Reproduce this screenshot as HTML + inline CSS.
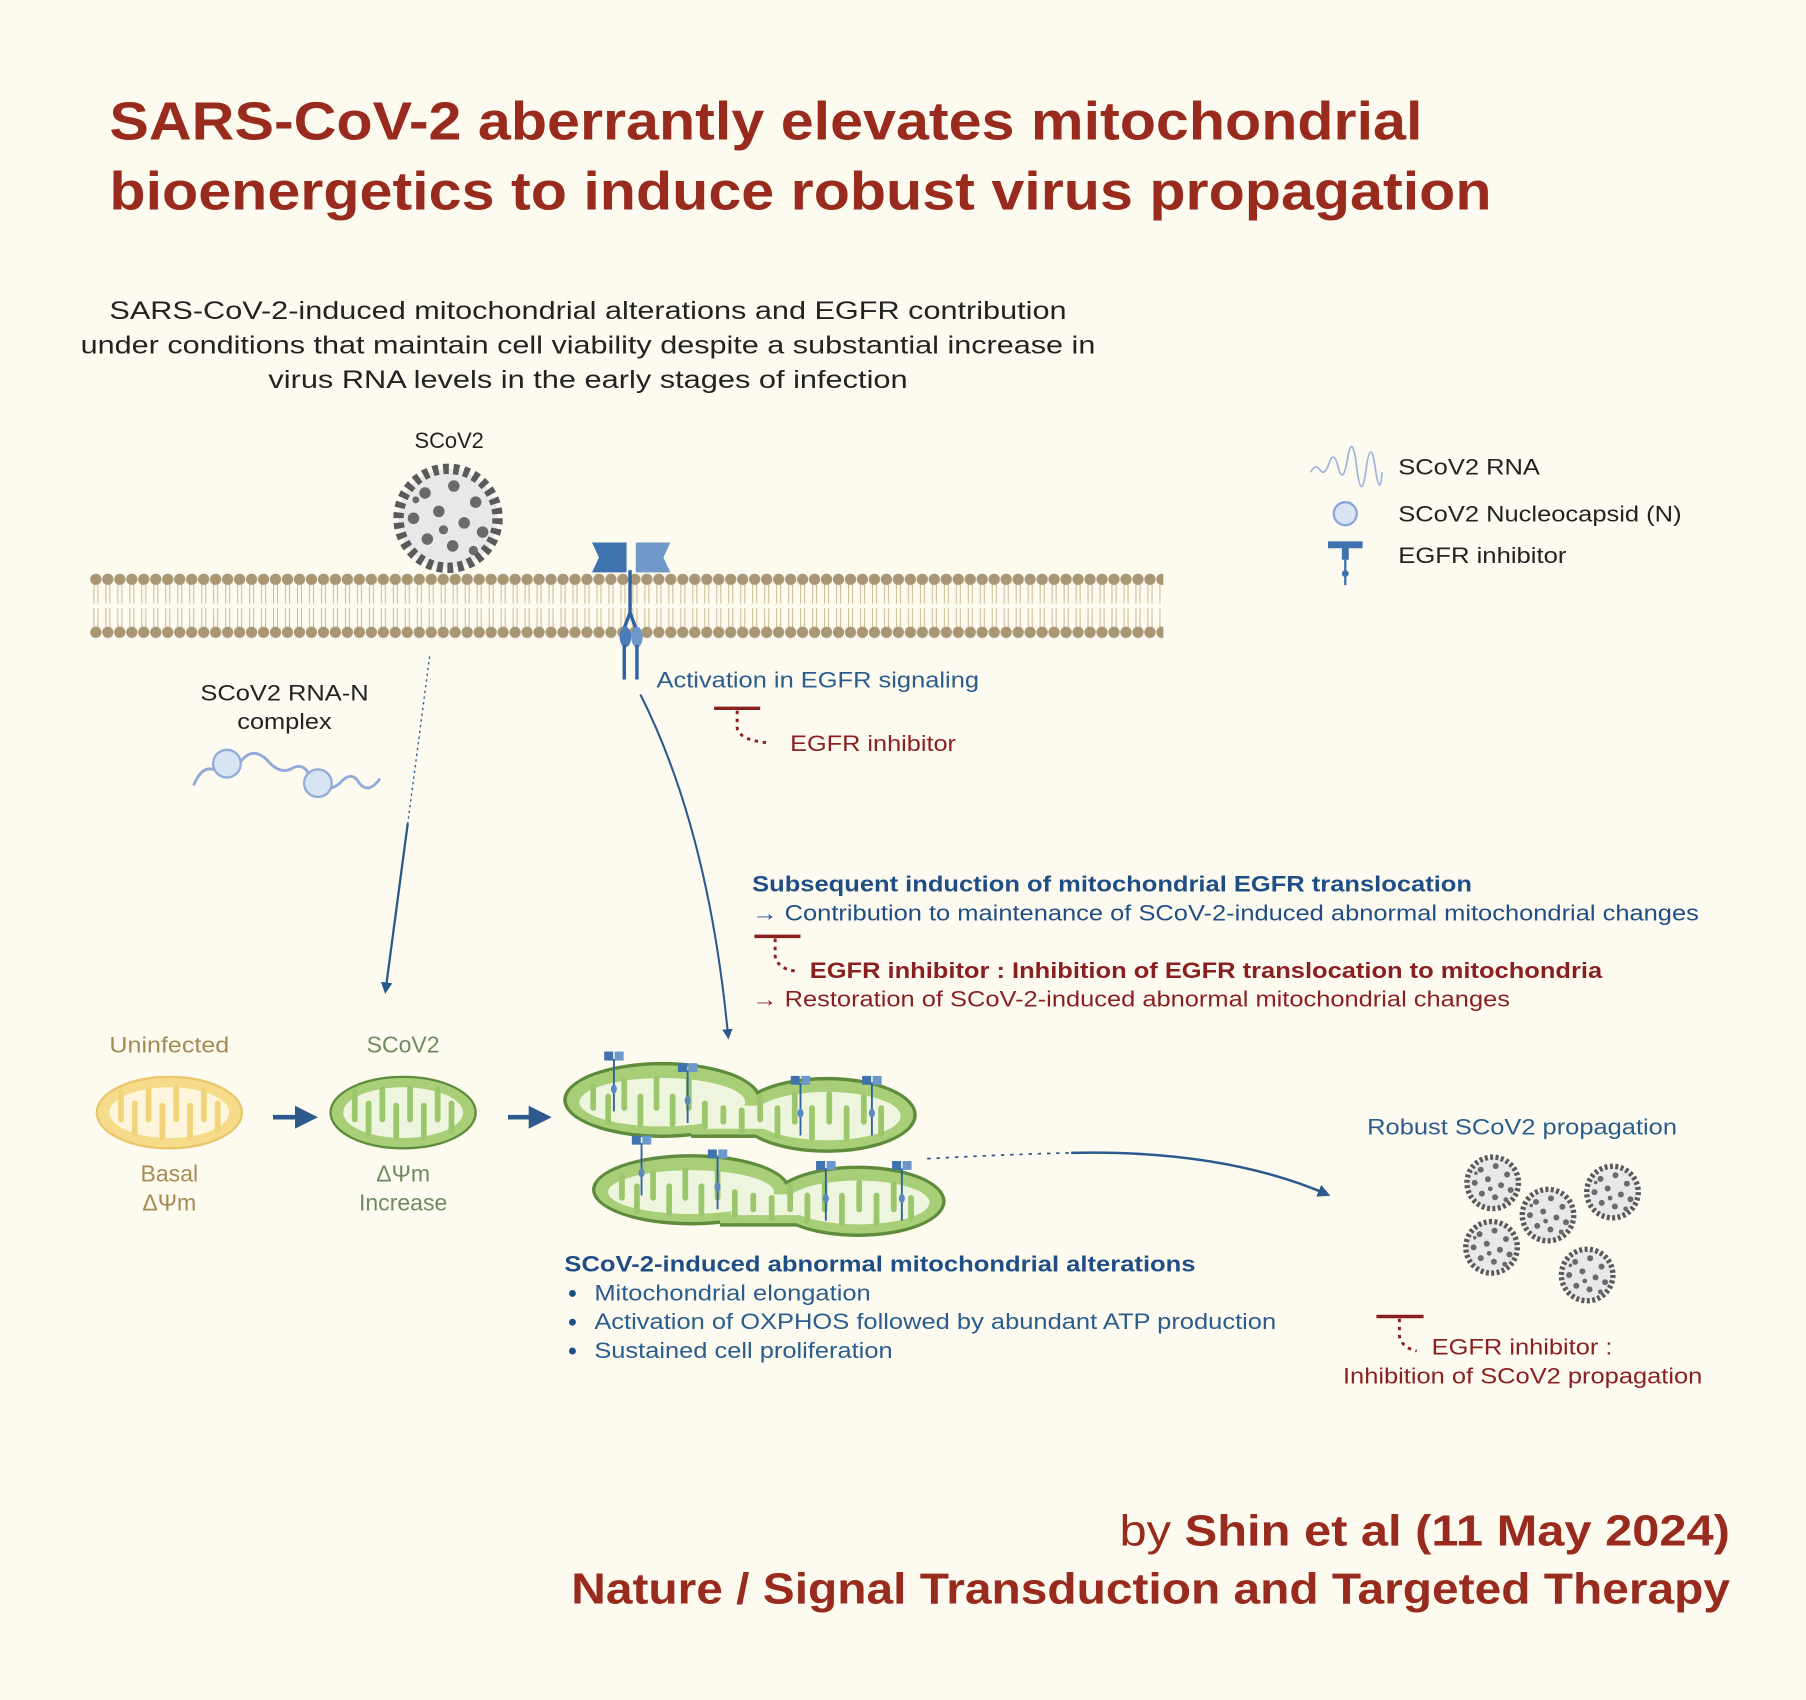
<!DOCTYPE html>
<html><head><meta charset="utf-8">
<style>
html,body{margin:0;padding:0;background:#fdfbf0;}
svg{display:block;}
text{font-family:"Liberation Sans",Arial,sans-serif;}
</style></head>
<body>
<svg width="1806" height="1700" viewBox="0 0 1568 1476" xmlns="http://www.w3.org/2000/svg">
<defs>
 <pattern id="mem" x="78" y="498" width="10.4" height="57" patternUnits="userSpaceOnUse">
  <line x1="3.5" y1="9" x2="3.5" y2="26" stroke="#cdbb98" stroke-width="0.9"/>
  <line x1="7" y1="9" x2="7" y2="26" stroke="#cdbb98" stroke-width="0.9"/>
  <line x1="3.5" y1="30" x2="3.5" y2="47" stroke="#cdbb98" stroke-width="0.9"/>
  <line x1="7" y1="30" x2="7" y2="47" stroke="#cdbb98" stroke-width="0.9"/>
  <circle cx="5.2" cy="5" r="4.9" fill="#a99674"/>
  <circle cx="5.2" cy="51" r="4.9" fill="#a99674"/>
 </pattern>
 <symbol id="virus" viewBox="-50 -50 100 100">
  <circle r="43" fill="#e8e8e8" stroke="#5a5a5a" stroke-width="9" stroke-dasharray="5 4"/>
  <g fill="#6a6a6a">
   <circle cx="-20" cy="-22" r="5"/><circle cx="5" cy="-28" r="5"/><circle cx="24" cy="-14" r="5"/>
   <circle cx="-30" cy="0" r="5"/><circle cx="-8" cy="-6" r="5"/><circle cx="14" cy="4" r="5"/>
   <circle cx="30" cy="12" r="5"/><circle cx="-18" cy="18" r="5"/><circle cx="4" cy="24" r="5"/>
   <circle cx="22" cy="28" r="4"/><circle cx="-4" cy="10" r="4"/><circle cx="-28" cy="-16" r="3"/>
  </g>
 </symbol>
 <symbol id="egfr" viewBox="0 0 30 80">
  <rect x="2" y="0" width="12" height="12" fill="#3f73b0"/>
  <rect x="16" y="0" width="12" height="12" fill="#6d98cc"/>
  <line x1="15" y1="10" x2="15" y2="80" stroke="#2f62a0" stroke-width="2.5"/>
  <ellipse cx="15" cy="50" rx="4" ry="6" fill="#5a88c0"/>
 </symbol>
 <marker id="ah" viewBox="0 0 10 10" refX="5" refY="5" markerWidth="5" markerHeight="5" orient="auto">
  <path d="M0,0 L10,5 L0,10 z" fill="#2c5a8c"/>
 </marker>
</defs>

<rect width="1568" height="1476" fill="#fdfbf0"/>

<!-- Title -->
<g fill="#992a1e" font-weight="bold" font-size="47">
 <text x="95" y="121" textLength="1140" lengthAdjust="spacingAndGlyphs">SARS-CoV-2 aberrantly elevates mitochondrial</text>
 <text x="95" y="182" textLength="1200" lengthAdjust="spacingAndGlyphs">bioenergetics to induce robust virus propagation</text>
</g>

<!-- Subtitle -->
<g fill="#222" font-size="22">
 <text x="95" y="277" textLength="831" lengthAdjust="spacingAndGlyphs">SARS-CoV-2-induced mitochondrial alterations and EGFR contribution</text>
 <text x="70" y="307" textLength="881" lengthAdjust="spacingAndGlyphs">under conditions that maintain cell viability despite a substantial increase in</text>
 <text x="233" y="337" textLength="555" lengthAdjust="spacingAndGlyphs">virus RNA levels in the early stages of infection</text>
</g>

<text x="390" y="389" font-size="19" fill="#222" text-anchor="middle">SCoV2</text>
<use href="#virus" x="339" y="400" width="100" height="100"/>

<!-- Membrane -->
<rect x="78" y="498" width="932" height="57" fill="url(#mem)"/>

<!-- EGFR on membrane -->
<path d="M514,471 h30 v26 h-30 l6,-13 z" fill="#3f73b0"/>
<path d="M582,471 h-30 v26 h30 l-6,-13 z" fill="#7098c8"/>
<line x1="547" y1="495" x2="547" y2="535" stroke="#2f62a0" stroke-width="3"/>
<path d="M547,532 L541,548 M547,532 L553,548" stroke="#2f62a0" stroke-width="3" fill="none"/>
<ellipse cx="543" cy="553" rx="5" ry="9" fill="#4a7cba"/>
<ellipse cx="553" cy="553" rx="5" ry="9" fill="#6d98cc"/>
<line x1="542" y1="560" x2="542" y2="590" stroke="#2f62a0" stroke-width="3"/>
<line x1="553" y1="560" x2="553" y2="590" stroke="#2f62a0" stroke-width="3"/>

<text x="570" y="597" font-size="19" fill="#2a5c8e" textLength="280" lengthAdjust="spacingAndGlyphs">Activation in EGFR signaling</text>
<line x1="620" y1="615" x2="660" y2="615" stroke="#8a1f1f" stroke-width="3"/>
<path d="M640,617 V632 Q642,643 668,645" stroke="#8a1f1f" stroke-width="2.5" fill="none" stroke-dasharray="3 4"/>
<text x="686" y="652" font-size="19" fill="#8a1f1f" textLength="144" lengthAdjust="spacingAndGlyphs">EGFR inhibitor</text>

<!-- RNA-N complex -->
<text x="174" y="608" font-size="19" fill="#222" textLength="146" lengthAdjust="spacingAndGlyphs">SCoV2 RNA-N</text>
<text x="206" y="633" font-size="19" fill="#222" textLength="82" lengthAdjust="spacingAndGlyphs">complex</text>
<path d="M168,682 Q175,665 185,668 Q200,672 210,660 Q220,648 232,660 Q242,672 252,668 Q264,660 270,676 Q280,692 295,680 Q305,668 312,680 Q320,690 330,676" stroke="#92acd8" stroke-width="2.5" fill="none"/>
<circle cx="197" cy="663" r="12" fill="#d8e3f4" stroke="#92acd8" stroke-width="2"/>
<circle cx="276" cy="680" r="12" fill="#d8e3f4" stroke="#92acd8" stroke-width="2"/>

<!-- arrows down -->
<path d="M373,570 L354,715" stroke="#2c5a8c" stroke-width="1.2" stroke-dasharray="2 3" fill="none"/>
<path d="M354,715 L335,858" stroke="#2c5a8c" stroke-width="2" fill="none" marker-end="url(#ah)"/>
<path d="M556,603 Q615,720 632,898" stroke="#2c5a8c" stroke-width="1.8" fill="none" marker-end="url(#ah)"/>

<!-- Legend -->
<path d="M1138,410 q4,-8 8,-2 t8,-6 t8,4 t8,-8 t8,8 t8,2 t8,-2 t6,4" stroke="#9fb5dc" stroke-width="1.5" fill="none"/>
<text x="1214" y="412" font-size="19" fill="#222" textLength="123" lengthAdjust="spacingAndGlyphs">SCoV2 RNA</text>
<circle cx="1168" cy="446" r="10" fill="#d8e3f4" stroke="#8aa6d4" stroke-width="2"/>
<text x="1214" y="453" font-size="19" fill="#222" textLength="246" lengthAdjust="spacingAndGlyphs">SCoV2 Nucleocapsid (N)</text>
<path d="M1153,470 h30 v6 h-12 v10 h-6 v-10 h-12 z" fill="#3f73b0"/>
<line x1="1168" y1="486" x2="1168" y2="508" stroke="#3f73b0" stroke-width="2"/>
<circle cx="1168" cy="498" r="3" fill="#3f73b0"/>
<text x="1214" y="489" font-size="19" fill="#222" textLength="146" lengthAdjust="spacingAndGlyphs">EGFR inhibitor</text>

<!-- Translocation text -->
<text x="653" y="774" font-size="19" font-weight="bold" fill="#1f4e86" textLength="625" lengthAdjust="spacingAndGlyphs">Subsequent induction of mitochondrial EGFR translocation</text>
<text x="653" y="799" font-size="19" fill="#1f4e86" textLength="822" lengthAdjust="spacingAndGlyphs">→ Contribution to maintenance of SCoV-2-induced abnormal mitochondrial changes</text>
<line x1="655" y1="813" x2="695" y2="813" stroke="#8a1f1f" stroke-width="3"/>
<path d="M673,815 V830 Q675,841 690,843" stroke="#8a1f1f" stroke-width="2.5" fill="none" stroke-dasharray="3 4"/>
<text x="703" y="849" font-size="19" font-weight="bold" fill="#8a1f1f" textLength="688" lengthAdjust="spacingAndGlyphs">EGFR inhibitor : Inhibition of EGFR translocation to mitochondria</text>
<text x="653" y="874" font-size="19" fill="#8a1f1f" textLength="658" lengthAdjust="spacingAndGlyphs">→ Restoration of SCoV-2-induced abnormal mitochondrial changes</text>

<!-- Small mitos -->
<text x="147" y="914" font-size="19" fill="#a58a52" text-anchor="middle" textLength="104" lengthAdjust="spacingAndGlyphs">Uninfected</text>
<ellipse cx="147" cy="966" rx="63" ry="31" fill="#f6dc8a" stroke="#e8c66a" stroke-width="2"/>
<ellipse cx="147" cy="966" rx="52" ry="22" fill="#fdf6dc"/>
<g stroke="#f1d47a" stroke-width="5" stroke-linecap="round">
 <line x1="105" y1="948" x2="105" y2="972"/><line x1="117" y1="984" x2="117" y2="958"/>
 <line x1="129" y1="946" x2="129" y2="972"/><line x1="141" y1="988" x2="141" y2="960"/>
 <line x1="153" y1="945" x2="153" y2="972"/><line x1="165" y1="988" x2="165" y2="960"/>
 <line x1="177" y1="946" x2="177" y2="972"/><line x1="189" y1="982" x2="189" y2="958"/>
</g>
<text x="147" y="1026" font-size="20" fill="#a58a52" text-anchor="middle">Basal</text>
<text x="147" y="1051" font-size="20" fill="#a58a52" text-anchor="middle">ΔΨm</text>

<path d="M237,970 H266" stroke="#2c5a8c" stroke-width="4" marker-end="url(#ah)"/>

<text x="350" y="914" font-size="20" fill="#6f8a62" text-anchor="middle">SCoV2</text>
<ellipse cx="350" cy="966" rx="63" ry="31" fill="#a8cf78" stroke="#5e8c3c" stroke-width="2"/>
<ellipse cx="350" cy="966" rx="52" ry="22" fill="#eef5df"/>
<g stroke="#9cc66c" stroke-width="5" stroke-linecap="round">
 <line x1="308" y1="948" x2="308" y2="972"/><line x1="320" y1="984" x2="320" y2="958"/>
 <line x1="332" y1="946" x2="332" y2="972"/><line x1="344" y1="988" x2="344" y2="960"/>
 <line x1="356" y1="945" x2="356" y2="972"/><line x1="368" y1="988" x2="368" y2="960"/>
 <line x1="380" y1="946" x2="380" y2="972"/><line x1="392" y1="982" x2="392" y2="958"/>
</g>
<text x="350" y="1026" font-size="20" fill="#6f8a62" text-anchor="middle">ΔΨm</text>
<text x="350" y="1051" font-size="20" fill="#6f8a62" text-anchor="middle">Increase</text>

<path d="M441,970 H469" stroke="#2c5a8c" stroke-width="4" marker-end="url(#ah)"/>

<!-- Long mito 1 -->
<g>
 <ellipse cx="575" cy="955" rx="86" ry="33" fill="#5e8c3c"/>
 <ellipse cx="718" cy="968" rx="78" ry="33" fill="#5e8c3c"/>
 <rect x="600" y="950" width="110" height="38" fill="#5e8c3c"/>
 <ellipse cx="575" cy="955" rx="83" ry="30" fill="#a8cf78"/>
 <ellipse cx="718" cy="968" rx="75" ry="30" fill="#a8cf78"/>
 <rect x="600" y="953" width="110" height="32" fill="#a8cf78"/>
 <ellipse cx="575" cy="957" rx="72" ry="21" fill="#eef5df"/>
 <ellipse cx="718" cy="969" rx="64" ry="21" fill="#eef5df"/>
 <rect x="610" y="960" width="100" height="20" fill="#eef5df"/>
 <g stroke="#9cc66c" stroke-width="5" stroke-linecap="round">
  <line x1="515" y1="943" x2="515" y2="962"/><line x1="528" y1="975" x2="528" y2="952"/>
  <line x1="542" y1="938" x2="542" y2="962"/><line x1="556" y1="976" x2="556" y2="952"/>
  <line x1="570" y1="937" x2="570" y2="962"/><line x1="584" y1="976" x2="584" y2="952"/>
  <line x1="598" y1="938" x2="598" y2="962"/><line x1="612" y1="978" x2="612" y2="958"/>
  <line x1="628" y1="962" x2="628" y2="974"/><line x1="644" y1="982" x2="644" y2="964"/>
  <line x1="660" y1="952" x2="660" y2="972"/><line x1="675" y1="986" x2="675" y2="962"/>
  <line x1="690" y1="950" x2="690" y2="974"/><line x1="705" y1="988" x2="705" y2="962"/>
  <line x1="720" y1="950" x2="720" y2="974"/><line x1="735" y1="988" x2="735" y2="962"/>
  <line x1="750" y1="952" x2="750" y2="974"/><line x1="765" y1="984" x2="765" y2="962"/>
 </g>
 <use href="#egfr" x="518" y="913" width="30" height="52"/>
 <use href="#egfr" x="582" y="923" width="30" height="52"/>
 <use href="#egfr" x="680" y="934" width="30" height="52"/>
 <use href="#egfr" x="742" y="934" width="30" height="52"/>
</g>
<!-- Long mito 2 -->
<g>
 <ellipse cx="600" cy="1033" rx="86" ry="31" fill="#5e8c3c"/>
 <ellipse cx="745" cy="1043" rx="76" ry="31" fill="#5e8c3c"/>
 <rect x="625" y="1027" width="110" height="38" fill="#5e8c3c"/>
 <ellipse cx="600" cy="1033" rx="83" ry="28" fill="#a8cf78"/>
 <ellipse cx="745" cy="1043" rx="73" ry="28" fill="#a8cf78"/>
 <rect x="625" y="1030" width="110" height="32" fill="#a8cf78"/>
 <ellipse cx="600" cy="1035" rx="72" ry="19" fill="#eef5df"/>
 <ellipse cx="745" cy="1044" rx="62" ry="19" fill="#eef5df"/>
 <rect x="635" y="1037" width="100" height="18" fill="#eef5df"/>
 <g stroke="#9cc66c" stroke-width="5" stroke-linecap="round">
  <line x1="540" y1="1022" x2="540" y2="1040"/><line x1="553" y1="1052" x2="553" y2="1030"/>
  <line x1="567" y1="1018" x2="567" y2="1040"/><line x1="581" y1="1054" x2="581" y2="1030"/>
  <line x1="595" y1="1016" x2="595" y2="1040"/><line x1="609" y1="1054" x2="609" y2="1030"/>
  <line x1="623" y1="1018" x2="623" y2="1040"/><line x1="638" y1="1055" x2="638" y2="1035"/>
  <line x1="654" y1="1038" x2="654" y2="1050"/><line x1="670" y1="1058" x2="670" y2="1040"/>
  <line x1="686" y1="1030" x2="686" y2="1050"/><line x1="701" y1="1060" x2="701" y2="1038"/>
  <line x1="716" y1="1027" x2="716" y2="1050"/><line x1="731" y1="1062" x2="731" y2="1038"/>
  <line x1="746" y1="1027" x2="746" y2="1050"/><line x1="761" y1="1062" x2="761" y2="1038"/>
  <line x1="776" y1="1028" x2="776" y2="1050"/><line x1="791" y1="1058" x2="791" y2="1040"/>
 </g>
 <use href="#egfr" x="542" y="986" width="30" height="52"/>
 <use href="#egfr" x="608" y="998" width="30" height="52"/>
 <use href="#egfr" x="702" y="1008" width="30" height="52"/>
 <use href="#egfr" x="768" y="1008" width="30" height="52"/>
</g>

<!-- arrow to propagation -->
<path d="M805,1006 Q880,1002 930,1001" stroke="#2c5a8c" stroke-width="1.5" stroke-dasharray="3 5" fill="none"/>
<path d="M930,1001 Q1060,998 1150,1036" stroke="#2c5a8c" stroke-width="2.2" fill="none" marker-end="url(#ah)"/>

<!-- alterations text -->
<text x="490" y="1104" font-size="19" font-weight="bold" fill="#1f4e86" textLength="548" lengthAdjust="spacingAndGlyphs">SCoV-2-induced abnormal mitochondrial alterations</text>
<g font-size="19" fill="#2a5c8e">
 <circle cx="497" cy="1123" r="3" fill="#1f4e86"/><text x="516" y="1129" textLength="240" lengthAdjust="spacingAndGlyphs">Mitochondrial elongation</text>
 <circle cx="497" cy="1148" r="3" fill="#1f4e86"/><text x="516" y="1154" textLength="592" lengthAdjust="spacingAndGlyphs">Activation of OXPHOS followed by abundant ATP production</text>
 <circle cx="497" cy="1173" r="3" fill="#1f4e86"/><text x="516" y="1179" textLength="259" lengthAdjust="spacingAndGlyphs">Sustained cell proliferation</text>
</g>

<!-- propagation -->
<text x="1187" y="985" font-size="19" fill="#2a5c8e" textLength="269" lengthAdjust="spacingAndGlyphs">Robust SCoV2 propagation</text>
<use href="#virus" x="1270" y="1001" width="52" height="52"/>
<use href="#virus" x="1374" y="1009" width="52" height="52"/>
<use href="#virus" x="1318" y="1029" width="52" height="52"/>
<use href="#virus" x="1269" y="1057" width="52" height="52"/>
<use href="#virus" x="1352" y="1081" width="52" height="52"/>

<line x1="1195" y1="1143" x2="1236" y2="1143" stroke="#8a1f1f" stroke-width="3"/>
<path d="M1215,1145 V1160 Q1217,1170 1230,1173" stroke="#8a1f1f" stroke-width="2.5" fill="none" stroke-dasharray="3 4"/>
<text x="1243" y="1176" font-size="19" fill="#8a1f1f" textLength="157" lengthAdjust="spacingAndGlyphs">EGFR inhibitor :</text>
<text x="1166" y="1201" font-size="19" fill="#8a1f1f" textLength="312" lengthAdjust="spacingAndGlyphs">Inhibition of SCoV2 propagation</text>

<!-- Footer -->
<g fill="#992a1e" font-size="38">
 <text x="972" y="1342" textLength="530" lengthAdjust="spacingAndGlyphs"><tspan>by </tspan><tspan font-weight="bold">Shin et al (11 May 2024)</tspan></text>
 <text x="496" y="1392" font-weight="bold" textLength="1006" lengthAdjust="spacingAndGlyphs">Nature / Signal Transduction and Targeted Therapy</text>
</g>
</svg>
</body></html>
